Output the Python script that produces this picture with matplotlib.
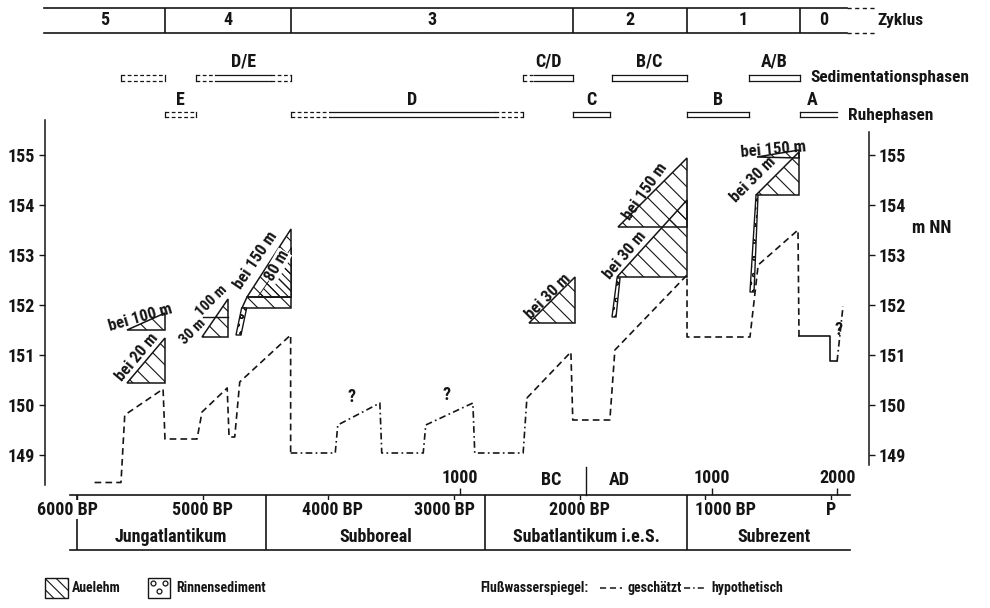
import matplotlib
matplotlib.use("Agg")
import matplotlib.pyplot as plt
from matplotlib.patches import Polygon, Rectangle
from matplotlib.lines import Line2D

plt.rcParams['font.family'] = ['Roboto Condensed', 'IBM Plex Sans Condensed', 'DejaVu Sans']
plt.rcParams['font.weight'] = 'bold'
plt.rcParams['hatch.linewidth'] = 0.8

INK = '#151515'
DASH = (0, (4, 2.5))
DASHDOT = (0, (4, 2, 1, 2))

# --- river water level (years BP, m NN) ---
est1_bp = [5860, 5650, 5620, 5315, 5300, 5045, 5005, 4805, 4790, 4745, 4705, 4300, 4300]
est1_lv = [148.45, 148.45, 149.8, 150.32, 149.32, 149.32, 149.86, 150.34, 149.36, 149.36, 150.46, 151.4, 149.04]
hyp1_bp = [4300, 3945, 3925, 3590, 3575, 3245, 3225, 2850, 2835, 2450, 2420]
hyp1_lv = [149.04, 149.04, 149.6, 150.04, 149.04, 149.04, 149.6, 150.04, 149.04, 149.04, 150.14]
est2_bp = [2420, 2070, 2055, 1760, 1720, 1146, 1146, 645, 580, 263, 255]
est2_lv = [150.14, 151.06, 149.7, 149.7, 151.1, 152.6, 151.36, 151.36, 152.8, 153.5, 151.37]
meas_bp = [255, 8, 8, -48]
meas_lv = [151.37, 151.37, 150.87, 150.87]
hyp2_bp = [-48, -95]
hyp2_lv = [150.87, 151.97]

q_bp = [3812, 3056, -63]
q_lv = [150.15, 150.2, 151.5]

# --- Auelehm bodies (BP, m NN) ---
aue_polys = [
    [(5600, 150.44), (5300, 150.44), (5300, 151.34)],
    [(5600, 151.5), (5300, 151.5), (5300, 151.84)],
    [(5005, 151.36), (4798, 151.36), (4798, 152.12)],
    [(4690, 151.94), (4297, 151.94), (4297, 152.16), (4650, 152.16)],
    [(4650, 152.16), (4297, 152.16), (4297, 153.52)],
    [(2403, 151.64), (2037, 151.64), (2037, 152.56)],
    [(1703, 152.56), (1146, 152.56), (1146, 154.1)],
    [(1695, 153.56), (1146, 153.56), (1146, 154.94)],
    [(597, 154.2), (255, 154.2), (255, 155.06)],
    [(589, 154.96), (255, 155.1), (255, 154.94)],
]
dense_poly = [(4568, 152.16), (4297, 152.16), (4297, 153.16)]
aue_split_bp = [4997, 4798]
aue_split_lv = [151.76, 151.76]

rinne_polys = [
    [(4690, 151.94), (4650, 151.94), (4695, 151.4), (4735, 151.4)],
    [(1703, 152.54), (1679, 152.54), (1711, 151.76), (1743, 151.76)],
    [(597, 154.2), (581, 154.2), (613, 152.26), (645, 152.26)],
]

aue_texts = ["bei 20 m", "bei 100 m", "100 m", "30 m", "bei 150 m", "80 m",
             "bei 30 m", "bei 150 m", "bei 30 m", "bei 30 m", "bei 150 m"]
aue_text_bp = [5523, 5500, 4930, 5078, 4576, 4409, 2252, 1480, 1639, 621, 462]
aue_text_lv = [150.96, 151.74, 152.08, 151.46, 152.9, 152.78, 152.16, 154.26, 153.0, 154.5, 155.1]
aue_text_rot = [50, 16, 45, 45, 56, 60, 45, 55, 50, 45, 5]
aue_text_size = [12, 12, 11, 11, 12, 12, 12, 12, 12, 12, 12]

# --- cycles and phases ---
zyk_labels = ["5", "4", "3", "2", "1", "0"]
zyk_bounds = [6260, 5300, 4300, 2050, 1150, 250, -125]

sed_labels = ["", "D/E", "C/D", "B/C", "A/B"]
sed_start = [5650, 5050, 2450, 1740, 650]
sed_end = [5300, 4300, 2050, 1150, 250]
sed_solid_start = [None, 4900, 2360, 1740, 650]
sed_solid_end = [None, 4460, 2050, 1150, 250]

ruhe_labels = ["E", "D", "C", "B", "A"]
ruhe_start = [5300, 4300, 2050, 1150, 250]
ruhe_end = [5050, 2450, 1760, 650, -50]
ruhe_solid_start = [None, 3990, 2050, 1150, 250]
ruhe_solid_end = [None, 2670, 1760, 650, -50]
ruhe_label_bp = [5175, 3330, 1905, 900, 150]

# --- time axis ---
bp_ticks = [6000, 5000, 4000, 3000, 2000, 1000, 0]
bp_labels = ["6000 BP", "5000 BP", "4000 BP", "3000 BP", "2000 BP", "1000 BP", "P"]
bp_label_pos = [6080, 5000, 3970, 3080, 2000, 840, 0]
cal_ticks = [-1000, 1000, 2000]
cal_labels = ["1000", "1000", "2000"]
period_bounds = [6000, 4500, 2750, 1150]
period_names = ["Jungatlantikum", "Subboreal", "Subatlantikum i.e.S.", "Subrezent"]
period_label_bp = [5250, 3625, 1950, 450]

W, H = 990, 608


def fig_box(x0, y0, x1, y1):
    return [x0 / W, 1 - y1 / H, (x1 - x0) / W, (y1 - y0) / H]


def phase_box(ax, x0, x1, y, h, s0, s1, open_right=False):
    kw = dict(color=INK, lw=0.9, clip_on=False)
    for yy in (y, y + h):
        if s0 is None:
            ax.plot([x0, x1], [yy, yy], ls=(0, (3, 2)), **kw)
            continue
        if s0 != x0:
            ax.plot([x0, s0], [yy, yy], ls=(0, (3, 2)), **kw)
        ax.plot([s0, s1], [yy, yy], ls='-', **kw)
        if s1 != x1:
            ax.plot([s1, x1], [yy, yy], ls=(0, (3, 2)), **kw)
    ax.plot([x0, x0], [y, y + h], **kw)
    if not open_right:
        ax.plot([x1, x1], [y, y + h], **kw)


fig = plt.figure(figsize=(9.9, 6.08), dpi=100)

ax = fig.add_axes(fig_box(45, 120, 869, 485))
ax.set_xlim(6254.6, -302)
ax.set_ylim(148.4, 155.7)
ax.patch.set_visible(False)
for s in ('top', 'bottom'):
    ax.spines[s].set_visible(False)
ax.spines['right'].set_bounds(148.8, 155.46)
for s in ('left', 'right'):
    ax.spines[s].set_linewidth(1.1)
    ax.spines[s].set_color(INK)
ax.set_xticks([])
ax.set_yticks(range(149, 156))
ax.tick_params(axis='y', left=True, right=True, labelleft=True, labelright=True,
               direction='out', length=4, width=1, labelsize=13, pad=3, colors=INK)

# water level
ax.plot(est1_bp, est1_lv, color=INK, lw=1.2, ls=DASH)
ax.plot(hyp1_bp, hyp1_lv, color=INK, lw=1.2, ls=DASHDOT)
ax.plot(est2_bp, est2_lv, color=INK, lw=1.2, ls=DASH)
ax.plot(meas_bp, meas_lv, color=INK, lw=1.2)
ax.plot(hyp2_bp, hyp2_lv, color=INK, lw=1.2, ls=DASHDOT)
for x, y in zip(q_bp, q_lv):
    ax.text(x, y, "?", ha='center', va='center', fontsize=13, color=INK)

# sediment bodies
for p in aue_polys:
    ax.add_patch(Polygon(p, closed=True, facecolor='none', edgecolor=INK,
                         hatch='\\\\', lw=1.1))
ax.add_patch(Polygon(dense_poly, closed=True, facecolor='none', edgecolor=INK,
                     hatch='\\\\\\\\', lw=0.6))
ax.plot(aue_split_bp, aue_split_lv, color=INK, lw=1.0)
for p in rinne_polys:
    ax.add_patch(Polygon(p, closed=True, facecolor='white', edgecolor=INK,
                         hatch='oo', lw=1.0))
for s, x, y, r, fs in zip(aue_texts, aue_text_bp, aue_text_lv, aue_text_rot, aue_text_size):
    bb = dict(facecolor='white', edgecolor='none', pad=0.2) if s == "80 m" else None
    ax.text(x, y, s, rotation=r, rotation_mode='anchor', ha='center', va='center',
            fontsize=fs, color=INK, bbox=bb)

ax.text(-644, 153.54, "m NN", ha='left', va='center', fontsize=13, color=INK, clip_on=False)

# Zyklus band
zy_lo, zy_hi = 157.44, 157.94
for yy in (zy_lo, zy_hi):
    ax.plot([zyk_bounds[0], zyk_bounds[-1]], [yy, yy], color=INK, lw=1.2, clip_on=False)
    ax.plot([zyk_bounds[-1], -350], [yy, yy], color=INK, lw=1.0, ls=(0, (3, 2.5)), clip_on=False)
ax.vlines(zyk_bounds[1:-1], zy_lo, zy_hi, color=INK, lw=1.2, clip_on=False)
for i, lab in enumerate(zyk_labels):
    ax.text((zyk_bounds[i] + zyk_bounds[i + 1]) / 2, (zy_lo + zy_hi) / 2, lab,
            ha='center', va='center', fontsize=13, color=INK, clip_on=False)
ax.text(-366, 157.68, "Zyklus", ha='left', va='center', fontsize=12.5, color=INK, clip_on=False)

# phases
for lab, a, b, s0, s1 in zip(sed_labels, sed_start, sed_end, sed_solid_start, sed_solid_end):
    phase_box(ax, a, b, 156.48, 0.12, s0, s1)
    if lab:
        ax.text((a + b) / 2, 156.86, lab, ha='center', va='center', fontsize=13,
                color=INK, clip_on=False)
ax.text(167, 156.54, "Sedimentationsphasen", ha='left', va='center', fontsize=12.5,
        color=INK, clip_on=False)
for i, (lab, a, b, s0, s1) in enumerate(zip(ruhe_labels, ruhe_start, ruhe_end,
                                            ruhe_solid_start, ruhe_solid_end)):
    phase_box(ax, a, b, 155.76, 0.1, s0, s1, open_right=(i == len(ruhe_labels) - 1))
    ax.text(ruhe_label_bp[i], 156.1, lab, ha='center', va='center', fontsize=13,
            color=INK, clip_on=False)
ax.text(-135, 155.78, "Ruhephasen", ha='left', va='center', fontsize=12.5,
        color=INK, clip_on=False)

# time axis
axp = fig.add_axes(fig_box(45, 495, 869, 550))
axp.set_xlim(ax.get_xlim())
axp.set_ylim(0, 1)
axp.patch.set_visible(False)
for s in ('left', 'right'):
    axp.spines[s].set_visible(False)
for s in ('top', 'bottom'):
    axp.spines[s].set_bounds(6056, -151)
    axp.spines[s].set_linewidth(1.2)
    axp.spines[s].set_color(INK)
axp.set_yticks([])
axp.set_xticks(bp_ticks)
axp.tick_params(axis='x', bottom=False, top=True, labelbottom=False, labeltop=False,
                direction='in', length=5, width=1, colors=INK)
axp.vlines(period_bounds, 0, 1, color=INK, lw=1.2)
for x, lab in zip(bp_label_pos, bp_labels):
    axp.text(x, 0.73, lab, ha='center', va='center', fontsize=13, color=INK, zorder=5,
             bbox=dict(facecolor='white', edgecolor='none', pad=0.3))
for x, lab in zip(period_label_bp, period_names):
    axp.text(x, 0.24, lab, ha='center', va='center', fontsize=13, color=INK)
sec = axp.secondary_xaxis('top', functions=(lambda b: 1950 - b, lambda a: 1950 - a))
sec.set_xticks(cal_ticks, cal_labels)
sec.tick_params(direction='out', length=5, width=1, labelsize=13, pad=1, colors=INK)
sec.spines['top'].set_visible(False)
axp.plot([1950, 1950], [1, 1.51], color=INK, lw=1.0, clip_on=False)
axp.text(2228, 1.27, "BC", ha='center', va='center', fontsize=13, color=INK, clip_on=False)
axp.text(1687, 1.27, "AD", ha='center', va='center', fontsize=13, color=INK, clip_on=False)

# legend
ly = 1 - 588 / H
LFS = 10
fig.patches.append(Rectangle((45 / W, 1 - 598 / H), 23 / W, 20 / H, transform=fig.transFigure,
                             facecolor='white', edgecolor=INK, hatch='\\\\\\', lw=1.0))
fig.text(72 / W, ly, "Auelehm", ha='left', va='center', fontsize=LFS, color=INK)
fig.patches.append(Rectangle((148 / W, 1 - 598 / H), 22 / W, 20 / H, transform=fig.transFigure,
                             facecolor='white', edgecolor=INK, lw=1.0))
fig.add_artist(Line2D([153 / W, 159 / W, 165 / W], [1 - 583 / H, 1 - 591 / H, 1 - 583 / H],
                      ls='none', marker='o', ms=3.5, mfc='white', mec=INK, mew=0.9,
                      transform=fig.transFigure))
fig.text(176 / W, ly, "Rinnensediment", ha='left', va='center', fontsize=LFS, color=INK)
fig.text(480 / W, ly, "Flußwasserspiegel:", ha='left', va='center', fontsize=LFS, color=INK)
fig.add_artist(Line2D([600 / W, 622 / W], [ly, ly], color=INK, lw=1.1, ls=DASH,
                      transform=fig.transFigure))
fig.text(627 / W, ly, "geschätzt", ha='left', va='center', fontsize=LFS, color=INK)
fig.add_artist(Line2D([684 / W, 706 / W], [ly, ly], color=INK, lw=1.1, ls=DASHDOT,
                      transform=fig.transFigure))
fig.text(711 / W, ly, "hypothetisch", ha='left', va='center', fontsize=LFS, color=INK)

fig.savefig("out.png", dpi=100, facecolor='white')
